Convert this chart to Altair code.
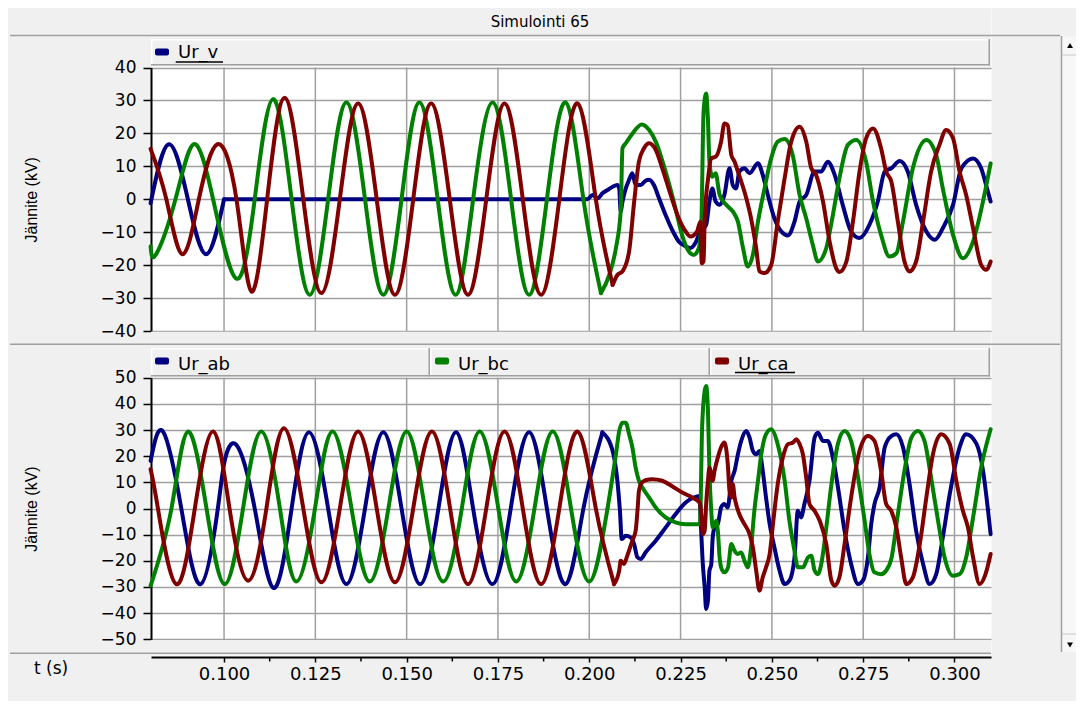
import altair as alt
import pandas as pd

# ------------------------------------------------------------------ data
T_DOMAIN = [0.08, 0.31]
X_TICKS = [0.100, 0.125, 0.150, 0.175, 0.200, 0.225, 0.250, 0.275, 0.300]
X_MINOR_TICKS = [0.1125, 0.1375, 0.1625, 0.1875, 0.2125, 0.2375, 0.2625, 0.2875]
TOP_TICKS = [-40, -30, -20, -10, 0, 10, 20, 30, 40]
BOTTOM_TICKS = [-50, -40, -30, -20, -10, 0, 10, 20, 30, 40, 50]

TITLE = "Simulointi 65"
Y_TITLE = "Jännite (kV)"
X_TITLE = "t (s)"
TOP_LEGEND = ["Ur_v"]
BOTTOM_LEGEND = ["Ur_ab", "Ur_bc", "Ur_ca"]

# top panel (kV) -- steady part (A) and disturbed part (B) of each trace
UR_V_A = [(0.0799, -1.2), (0.0849, 16.7), (0.0901, 0.0), (0.0951, -16.7), (0.1000, 0.0)]
UR_V_B = [(0.1000, 0.0), (0.1995, 0.0), (0.2009, 1.3), (0.2023, 0.3), (0.2036, 1.8), (0.2050, 2.8),
          (0.2064, 3.8), (0.2077, 4.3), (0.2082, 3.3), (0.2086, -3.7), (0.2091, -0.7), (0.2100, 3.3),
          (0.2109, 5.9), (0.2118, 7.9), (0.2127, 4.3), (0.2141, 4.3), (0.2154, 5.6), (0.2164, 5.9),
          (0.2177, 4.3), (0.2191, 0.3), (0.2209, -4.8), (0.2227, -9.3), (0.2245, -12.8), (0.2264, -14.3),
          (0.2277, -14.8), (0.2291, -13.2), (0.2304, -9.8), (0.2320, -7.8), (0.2329, -0.7), (0.2337, 3.3),
          (0.2346, -0.7), (0.2357, -1.7), (0.2370, 1.3), (0.2384, 9.4), (0.2393, 4.3), (0.2402, 3.3),
          (0.2411, 8.4), (0.2425, 9.4), (0.2439, 7.9), (0.2462, 10.9), (0.2475, 7.4), (0.2489, 1.3),
          (0.2507, -5.8), (0.2526, -9.8), (0.2544, -11.0), (0.2562, -6.8), (0.2576, -0.7), (0.2594, 1.3),
          (0.2617, 8.4), (0.2635, 8.4), (0.2653, 11.4), (0.2672, 7.4), (0.2694, -1.7), (0.2717, -9.8),
          (0.2740, -11.8), (0.2767, -7.8), (0.2790, -0.7), (0.2809, 8.4), (0.2827, 9.4), (0.2850, 11.6),
          (0.2872, 8.4), (0.2895, -1.7), (0.2923, -9.8), (0.2946, -12.3), (0.2968, -8.8), (0.2996, -1.7),
          (0.3019, 9.4), (0.3051, 12.4), (0.3073, 9.4), (0.3089, 3.3), (0.3099, -0.7)]

TOP_GREEN_A = [(0.0799, -14.3), (0.0814, -16.7), (0.0867, 0.0), (0.0917, 16.7), (0.0970, 0.0),
               (0.1034, -24.1), (0.1084, 0.0), (0.1134, 30.4), (0.1185, 0.0), (0.1235, -29.0),
               (0.1285, 0.0), (0.1335, 29.4), (0.1386, 0.0), (0.1436, -29.0), (0.1486, 0.0),
               (0.1535, 29.4), (0.1585, 0.0), (0.1634, -29.0), (0.1682, 0.0), (0.1735, 29.4),
               (0.1786, 0.0), (0.1835, -29.0), (0.1884, 0.0), (0.1935, 29.4), (0.1984, 0.0),
               (0.2032, -28.5)]
TOP_GREEN_B = [(0.2032, -28.5), (0.2055, -22.9), (0.2073, -14.8), (0.2086, -3.7), (0.2091, 15.5),
               (0.2100, 17.0), (0.2118, 19.9), (0.2144, 22.7), (0.2164, 21.0), (0.2182, 17.5),
               (0.2209, 8.4), (0.2236, -2.7), (0.2254, -10.8), (0.2273, -15.9), (0.2286, -16.9),
               (0.2300, -14.8), (0.2307, -6.8), (0.2313, 26.6), (0.2320, 32.1), (0.2325, 24.0),
               (0.2329, 11.4), (0.2337, 6.8), (0.2346, 7.9), (0.2357, 1.3), (0.2375, -1.7),
               (0.2393, -3.7), (0.2407, -6.8), (0.2421, -14.8), (0.2434, -20.4), (0.2448, -16.9),
               (0.2462, -6.8), (0.2480, 3.3), (0.2498, 12.4), (0.2516, 17.5), (0.2535, 18.3),
               (0.2557, 13.4), (0.2576, 1.3), (0.2594, -5.8), (0.2612, -13.8), (0.2626, -18.9),
               (0.2649, -14.8), (0.2667, -4.8), (0.2685, 6.4), (0.2708, 16.5), (0.2731, 18.0),
               (0.2758, 11.4), (0.2777, -0.7), (0.2799, -10.8), (0.2822, -17.4), (0.2841, -16.4),
               (0.2859, -6.8), (0.2886, 9.4), (0.2923, 18.0), (0.2950, 13.4), (0.2968, 3.3),
               (0.2996, -10.8), (0.3023, -17.9), (0.3051, -12.8), (0.3078, -0.7), (0.3099, 10.9)]

TOP_RED_A = [(0.0799, 15.3), (0.0842, 0.0), (0.0886, -16.7), (0.0931, 0.0), (0.0982, 16.7),
             (0.1034, 0.0), (0.1075, -28.0), (0.1118, 0.0), (0.1166, 30.8), (0.1217, 0.0),
             (0.1267, -28.5), (0.1317, 0.0), (0.1367, 29.1), (0.1418, 0.0), (0.1468, -29.0),
             (0.1518, 0.0), (0.1567, 29.1), (0.1618, 0.0), (0.1668, -29.0), (0.1718, 0.0),
             (0.1768, 29.1), (0.1818, 0.0), (0.1868, -29.0), (0.1918, 0.0), (0.1968, 29.1),
             (0.2018, 0.0), (0.2064, -26.0)]
TOP_RED_B = [(0.2064, -26.0), (0.2077, -23.0), (0.2091, -21.9), (0.2109, -15.9), (0.2123, -0.7),
             (0.2136, 11.4), (0.2150, 15.5), (0.2164, 17.0), (0.2182, 15.0), (0.2200, 9.4),
             (0.2223, 1.3), (0.2245, -5.8), (0.2264, -9.8), (0.2277, -11.3), (0.2295, -9.8),
             (0.2304, -6.8), (0.2308, -19.4), (0.2313, -18.9), (0.2316, -6.3), (0.2325, 6.0),
             (0.2334, 12.4), (0.2347, 13.0), (0.2361, 17.5), (0.2370, 23.0), (0.2379, 22.5),
             (0.2389, 13.4), (0.2398, 11.4), (0.2407, 8.4), (0.2430, 0.3), (0.2443, -5.8),
             (0.2457, -14.8), (0.2466, -21.9), (0.2480, -22.4), (0.2498, -20.0), (0.2516, -6.8),
             (0.2535, 6.4), (0.2553, 17.5), (0.2576, 22.0), (0.2594, 17.5), (0.2608, 9.4),
             (0.2621, 7.4), (0.2640, -0.7), (0.2658, -12.8), (0.2676, -20.9), (0.2685, -22.1),
             (0.2704, -18.9), (0.2722, -6.8), (0.2740, 8.4), (0.2758, 18.5), (0.2777, 21.5),
             (0.2799, 15.5), (0.2813, 8.4), (0.2827, 5.4), (0.2845, -6.8), (0.2863, -18.9),
             (0.2877, -21.9), (0.2895, -18.9), (0.2914, -6.8), (0.2936, 8.4), (0.2959, 16.5),
             (0.2977, 21.0), (0.2996, 18.5), (0.3014, 8.4), (0.3032, 1.3), (0.3051, -8.8),
             (0.3073, -19.9), (0.3087, -21.4), (0.3099, -18.9)]

# bottom panel (kV)
UR_AB_A = [(0.0799, 18.2), (0.0833, 29.4), (0.0883, 0.0), (0.0936, -28.9), (0.0983, 0.0),
           (0.1002, 18.4), (0.1034, 24.3), (0.1084, 0.0), (0.1136, -30.4), (0.1185, 0.0),
           (0.1233, 29.1), (0.1285, 0.0), (0.1335, -28.9), (0.1386, 0.0), (0.1436, 29.1),
           (0.1486, 0.0), (0.1537, -28.9), (0.1587, 0.0), (0.1635, 29.1), (0.1682, 0.0),
           (0.1735, -28.9), (0.1785, 0.0), (0.1835, 29.1), (0.1884, 0.0), (0.1935, -28.9),
           (0.1984, 0.0), (0.2036, 29.1)]
UR_AB_B = [(0.2036, 29.1), (0.2064, 22.0), (0.2077, 10.6), (0.2084, -0.9), (0.2089, -11.7),
           (0.2100, -10.4), (0.2114, -11.1), (0.2123, -13.7), (0.2132, -18.7), (0.2141, -19.3),
           (0.2154, -16.8), (0.2182, -12.3), (0.2209, -7.3), (0.2236, -2.2), (0.2264, 2.3),
           (0.2286, 4.2), (0.2302, 4.8), (0.2306, -7.3), (0.2311, -21.4), (0.2316, -30.0),
           (0.2320, -38.4), (0.2325, -35.2), (0.2329, -23.8), (0.2334, -21.4), (0.2338, -11.2),
           (0.2343, -7.3), (0.2352, -6.0), (0.2361, 0.4), (0.2370, 1.7), (0.2379, 0.4),
           (0.2389, 10.6), (0.2398, 14.4), (0.2407, 20.7), (0.2416, 25.8), (0.2430, 29.6),
           (0.2439, 27.1), (0.2448, 22.0), (0.2457, 20.7), (0.2466, 22.0), (0.2475, 14.4),
           (0.2484, 4.2), (0.2494, -6.0), (0.2507, -14.9), (0.2521, -23.7), (0.2535, -28.9),
           (0.2548, -27.6), (0.2562, -18.7), (0.2571, -0.9), (0.2580, -3.4), (0.2589, 1.7),
           (0.2603, 10.6), (0.2617, 27.1), (0.2626, 29.0), (0.2640, 25.8), (0.2653, 25.8),
           (0.2667, 19.5), (0.2681, 8.1), (0.2699, -8.5), (0.2717, -21.2), (0.2736, -28.9),
           (0.2749, -27.6), (0.2763, -18.7), (0.2772, -6.0), (0.2781, 1.7), (0.2795, 8.1),
           (0.2809, 23.4), (0.2827, 27.7), (0.2841, 28.4), (0.2859, 23.4), (0.2877, 9.3),
           (0.2895, -8.5), (0.2914, -21.2), (0.2932, -28.9), (0.2950, -25.1), (0.2968, -11.1),
           (0.2987, 5.5), (0.3014, 23.4), (0.3032, 28.4), (0.3060, 24.8), (0.3078, 14.6),
           (0.3092, -0.9), (0.3099, -9.8)]

UR_BC_A = [(0.0799, -29.5), (0.0856, 0.0), (0.0901, 29.4), (0.0952, 0.0),
           (0.1002, -28.9), (0.1052, 0.0), (0.1102, 29.4), (0.1153, 0.0), (0.1198, -27.9),
           (0.1249, 0.0), (0.1297, 29.4), (0.1349, 0.0), (0.1399, -27.9), (0.1450, 0.0),
           (0.1500, 29.4), (0.1550, 0.0), (0.1600, -27.9), (0.1651, 0.0), (0.1700, 29.4),
           (0.1751, 0.0), (0.1800, -27.9), (0.1850, 0.0), (0.1900, 29.4), (0.1950, 0.0),
           (0.2000, -27.9), (0.2050, 0.0)]
UR_BC_B = [(0.2050, 0.0), (0.2073, 20.7), (0.2082, 29.6), (0.2091, 32.8), (0.2100, 32.8),
           (0.2109, 28.4), (0.2118, 23.4), (0.2127, 15.6), (0.2136, 10.6), (0.2145, 8.1),
           (0.2164, 4.2), (0.2182, 0.4), (0.2209, -3.4), (0.2236, -5.3), (0.2264, -6.0),
           (0.2303, -6.0), (0.2309, 30.9), (0.2316, 44.9), (0.2320, 46.8), (0.2325, 37.3),
           (0.2329, 14.4), (0.2334, -0.9), (0.2338, -7.3), (0.2348, -4.7), (0.2352, -8.5),
           (0.2357, -18.7), (0.2361, -22.5), (0.2370, -24.4), (0.2380, -22.5), (0.2389, -13.6),
           (0.2398, -16.2), (0.2407, -17.4), (0.2416, -16.8), (0.2425, -20.0), (0.2434, -22.5),
           (0.2443, -14.9), (0.2452, -0.9), (0.2462, 10.6), (0.2471, 20.7), (0.2484, 28.4),
           (0.2498, 30.3), (0.2516, 24.6), (0.2535, 10.6), (0.2548, -4.7), (0.2562, -16.2),
           (0.2571, -22.5), (0.2585, -22.5), (0.2599, -18.7), (0.2608, -18.1), (0.2617, -23.7),
           (0.2626, -25.1), (0.2635, -21.4), (0.2649, -7.3), (0.2662, 8.1), (0.2681, 24.8),
           (0.2699, 29.6), (0.2717, 25.8), (0.2736, 11.8), (0.2754, -4.7), (0.2767, -17.4),
           (0.2781, -24.4), (0.2799, -25.1), (0.2813, -23.7), (0.2827, -19.3), (0.2845, -2.2),
           (0.2863, 14.4), (0.2882, 27.1), (0.2900, 29.6), (0.2918, 25.8), (0.2936, 11.8),
           (0.2955, -4.7), (0.2973, -18.7), (0.2996, -25.7), (0.3014, -25.1), (0.3032, -18.7),
           (0.3051, -3.4), (0.3073, 15.6), (0.3099, 30.3)]

UR_CA_A = [(0.0799, 15.0), (0.0819, 0.0), (0.0869, -28.9), (0.0920, 0.0), (0.0970, 29.4),
           (0.1015, 0.0), (0.1066, -27.6), (0.1116, 0.0), (0.1164, 30.7), (0.1217, 0.0),
           (0.1267, -28.2), (0.1317, 0.0), (0.1367, 29.4), (0.1418, 0.0), (0.1468, -28.2),
           (0.1518, 0.0), (0.1569, 29.4), (0.1619, 0.0), (0.1668, -28.9), (0.1718, 0.0),
           (0.1768, 29.4), (0.1818, 0.0), (0.1868, -28.9), (0.1918, 0.0), (0.1968, 29.4),
           (0.2018, 0.0), (0.2068, -28.9)]
UR_CA_B = [(0.2068, -28.9), (0.2082, -23.7), (0.2086, -20.0), (0.2095, -21.2), (0.2104, -18.1),
           (0.2118, -12.3), (0.2127, -8.5), (0.2132, -0.9), (0.2136, 6.7), (0.2141, 9.3),
           (0.2154, 10.8), (0.2173, 11.2), (0.2200, 10.6), (0.2227, 8.5), (0.2255, 6.1),
           (0.2282, 4.2), (0.2302, 2.3), (0.2306, -0.9), (0.2311, -9.8), (0.2316, -8.5),
           (0.2320, 1.7), (0.2325, 10.6), (0.2329, 15.6), (0.2338, 10.6), (0.2343, 14.4),
           (0.2352, 19.5), (0.2361, 23.4), (0.2370, 25.2), (0.2380, 15.6), (0.2384, 6.7),
           (0.2389, 4.2), (0.2393, 9.3), (0.2398, 4.2), (0.2402, 1.7), (0.2411, -2.2),
           (0.2425, -6.0), (0.2439, -9.8), (0.2448, -14.9), (0.2457, -23.7), (0.2466, -31.4),
           (0.2475, -26.3), (0.2484, -22.5), (0.2494, -17.4), (0.2503, -6.0), (0.2516, 9.3),
           (0.2530, 19.5), (0.2544, 24.6), (0.2558, 25.2), (0.2567, 26.5), (0.2576, 24.6),
           (0.2585, 20.7), (0.2594, 11.8), (0.2603, 1.7), (0.2617, -0.9), (0.2631, -4.7),
           (0.2649, -13.6), (0.2663, -27.6), (0.2672, -29.5), (0.2685, -26.3), (0.2699, -13.6),
           (0.2717, 4.2), (0.2740, 22.0), (0.2763, 27.7), (0.2781, 25.8), (0.2799, 14.4),
           (0.2813, 1.7), (0.2827, -0.9), (0.2841, -7.3), (0.2854, -18.7), (0.2868, -28.9),
           (0.2886, -26.3), (0.2905, -13.6), (0.2923, 4.2), (0.2941, 20.7), (0.2964, 28.4),
           (0.2987, 24.6), (0.3005, 10.6), (0.3023, -0.9), (0.3037, -7.3), (0.3051, -18.7),
           (0.3069, -28.9), (0.3085, -25.1), (0.3099, -17.4)]

# ------------------------------------------------------------------ style / layout
BLUE, GREEN, RED = "#000080", "#008000", "#800000"
BG = "#f0f0f0"
GRID = "#a0a0a0"
EDGE = "#a0a0a0"
FONT = "DejaVu Sans"
W, H = 840, 649
TOP_RANGE = [323, 59.5]
BOT_RANGE = [631.3, 369.7]
LW = 4

x_axis = alt.Axis(values=X_TICKS, format=".3f", title=None, orient="bottom", grid=False,
                  domainColor="black", domainWidth=2,
                  tickColor="black", tickSize=5, tickWidth=1.5, labelFont=FONT,
                  labelFontSize=18, labelColor="black", labelPadding=3, labelFlush=False,
                  labelOverlap=False, labelBound=False)
X = alt.X("t:Q", scale=alt.Scale(domain=T_DOMAIN, nice=False, zero=False), axis=x_axis)


def y_axis(values, title_y):
    return alt.Axis(values=values, orient="left", title=Y_TITLE, titleX=-120, titleY=title_y,
                    titleAngle=270, titleAlign="center", titleBaseline="middle",
                    titleFont="Liberation Sans", titleFontSize=16, titleFontWeight="normal",
                    titleColor="black", grid=True, gridColor=GRID, gridWidth=1.5,
                    domainColor="black", domainWidth=2, tickColor="black", tickSize=8,
                    tickWidth=1.5, labelFont=FONT, labelFontSize=17, labelColor="black",
                    labelPadding=7, labelOverlap=False, labelBound=False, labelFlush=False)


Y_TOP = alt.Y("v:Q", scale=alt.Scale(domain=[-40, 40], range=TOP_RANGE, nice=False, zero=False),
              axis=y_axis(TOP_TICKS, 191.25))
Y_BOT = alt.Y("v:Q", scale=alt.Scale(domain=[-50, 50], range=BOT_RANGE, nice=False, zero=False),
              axis=y_axis(BOTTOM_TICKS, 500.5))


def wave(points, color, interp, y):
    df = pd.DataFrame(points, columns=["t", "v"])
    return alt.Chart(df).mark_line(color=color, strokeWidth=LW, interpolate=interp,
                                   strokeJoin="round", strokeCap="round").encode(x=X, y=y)


def x_grid(y_range):
    return alt.Chart(pd.DataFrame({"t": X_TICKS})).mark_rule(
        color=GRID, strokeWidth=1.5).encode(x=X, y=alt.value(y_range[1]), y2=alt.value(y_range[0]))


ONE = pd.DataFrame({"k": [0]})


def rect(x1, x2, y1, y2, fill, **kw):
    return alt.Chart(ONE).mark_rect(fill=fill, **kw).encode(
        x=alt.value(x1), x2=alt.value(x2), y=alt.value(y1), y2=alt.value(y2))


def hline(x1, x2, y, color, w=1.5):
    return alt.Chart(ONE).mark_rule(color=color, strokeWidth=w).encode(
        x=alt.value(x1), x2=alt.value(x2), y=alt.value(y))


def vline(x, y1, y2, color, w=1.5):
    return alt.Chart(ONE).mark_rule(color=color, strokeWidth=w).encode(
        x=alt.value(x), y=alt.value(y1), y2=alt.value(y2))


def text(s, x, y, size, align="left", baseline="alphabetic", font=FONT):
    return alt.Chart(ONE).mark_text(text=s, align=align, baseline=baseline, font=font,
                                    fontSize=size, color="black").encode(
        x=alt.value(x), y=alt.value(y))


def bar3d(x1, x2, y1, y2):
    return [rect(x1, x2, y1, y2, BG),
            hline(x1, x2, y1 + 0.75, "white"), vline(x1 + 0.75, y1, y2, "white"),
            hline(x1, x2, y2 - 0.75, EDGE), vline(x2 - 0.75, y1, y2, EDGE)]


deco = [
    # grey areas outside the two plotting boxes
    rect(0, W, 0, 58.6, BG), rect(0, W, 323.8, 368.9, BG), rect(0, W, 632.1, 647.6, BG),
    x_grid(TOP_RANGE), x_grid(BOT_RANGE),
    # window separators
    hline(-141, 909, 27.5, EDGE), hline(-141, 909, 336.3, EDGE), hline(-141, W, 645.3, EDGE),
    # scrollbar
    rect(911, 925, 28.5, 644, "#f7f7f7"), vline(910.5, 28, 644, EDGE),
    hline(911, 925, 47, "#c8c8c8", 1), hline(911, 925, 626, "#c8c8c8", 1),
    alt.Chart(ONE).mark_point(shape="triangle-up", filled=True, color="black", size=35,
                              opacity=1).encode(x=alt.value(919), y=alt.value(37.5)),
    alt.Chart(ONE).mark_point(shape="triangle-down", filled=True, color="black", size=35,
                              opacity=1).encode(x=alt.value(919), y=alt.value(637)),
    text(TITLE, 389, 13.5, 15, align="center", baseline="middle"),
    text(X_TITLE, -117, 661, 17, baseline="middle"),
]
deco += bar3d(0, 839, 31, 57.5)
deco += bar3d(0, 279, 340, 368.5) + bar3d(279, 559, 340, 368.5) + bar3d(559, 839, 340, 368.5)
deco += [
    rect(4, 18, 40.5, 47.5, BLUE, cornerRadius=2),
    text(TOP_LEGEND[0], 27, 50.3, 18), hline(24.7, 72, 54, "black", 1.5),
    rect(4, 18, 349.5, 356.5, BLUE, cornerRadius=2), text(BOTTOM_LEGEND[0], 27, 362, 18),
    rect(284, 298, 349.5, 356.5, GREEN, cornerRadius=2), text(BOTTOM_LEGEND[1], 307, 362, 18),
    rect(564, 578, 349.5, 356.5, RED, cornerRadius=2), text(BOTTOM_LEGEND[2], 587, 362, 18),
    hline(584, 644, 364.5, "black", 1.5),
]

top = alt.layer(
    wave(UR_V_A, BLUE, "natural", Y_TOP), wave(UR_V_B, BLUE, "monotone", Y_TOP),
    wave(TOP_GREEN_A, GREEN, "natural", Y_TOP), wave(TOP_GREEN_B, GREEN, "monotone", Y_TOP),
    wave(TOP_RED_A, RED, "natural", Y_TOP), wave(TOP_RED_B, RED, "monotone", Y_TOP),
)
bottom = alt.layer(
    wave(UR_AB_A, BLUE, "natural", Y_BOT), wave(UR_AB_B, BLUE, "monotone", Y_BOT),
    wave(UR_BC_A, GREEN, "natural", Y_BOT), wave(UR_BC_B, GREEN, "monotone", Y_BOT),
    wave(UR_CA_A, RED, "natural", Y_BOT), wave(UR_CA_B, RED, "monotone", Y_BOT),
)
minor = alt.Chart(pd.DataFrame({"t": X_MINOR_TICKS})).mark_rule(
    color="black", strokeWidth=1.5).encode(x=X, y=alt.value(650), y2=alt.value(653.5))

chart = alt.layer(*deco, top, bottom, minor).resolve_scale(y="independent").properties(
    width=W, height=H,
    padding={"left": 143, "right": 85, "top": 0, "bottom": 44},
    autosize=alt.AutoSizeParams(type="none"),
    background=BG,
).configure_view(fill="white", stroke="transparent")

chart.save("out.html", embed_options={"renderer": "svg", "actions": False})
